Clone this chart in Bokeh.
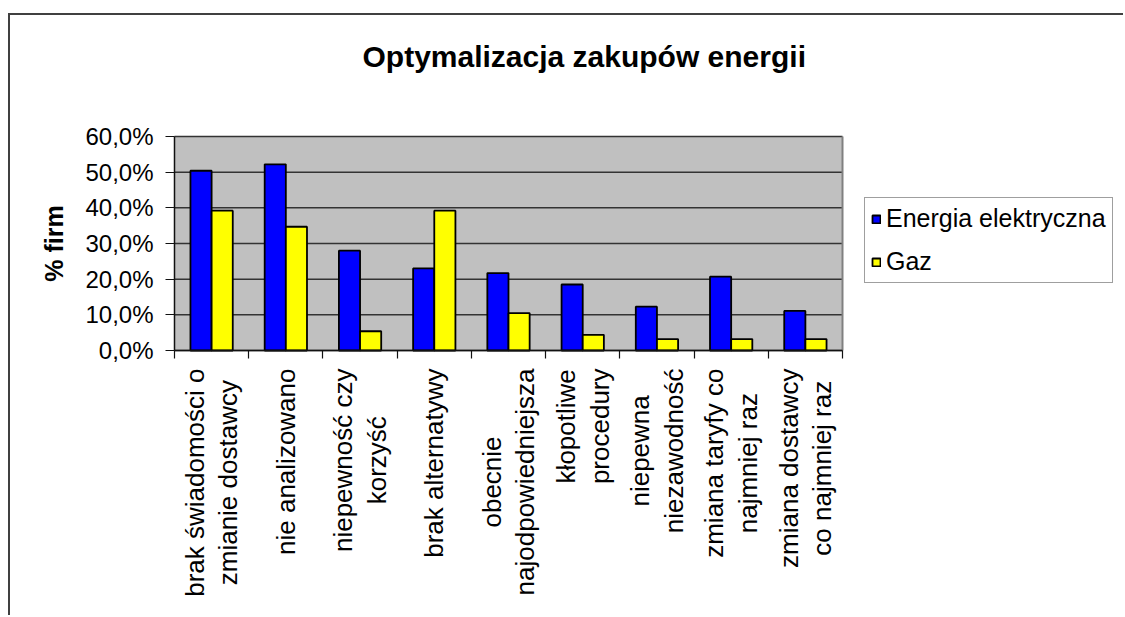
import math
import numpy as np
from bokeh.plotting import figure
from bokeh.models import (Range1d, FixedTicker, CustomJSTickFormatter, ColumnDataSource,
                          Legend, LegendItem)
from bokeh.core.properties import value
from bokeh.transform import dodge
from bokeh.embed import file_html
from bokeh.resources import INLINE

# ---------------- data ----------------
categories = [
    "brak świadomości o\nzmianie dostawcy",
    "nie analizowano",
    "niepewność czy\nkorzyść",
    "brak alternatywy",
    "obecnie\nnajodpowiedniejsza",
    "kłopotliwe\nprocedury",
    "niepewna\nniezawodność",
    "zmiana taryfy co\nnajmniej raz",
    "zmiana dostawcy\nco najmniej raz",
]
energia = [50.4, 52.2, 28.0, 23.0, 21.7, 18.5, 12.3, 20.7, 11.1]
gaz = [39.2, 34.7, 5.4, 39.2, 10.5, 4.4, 3.2, 3.2, 3.2]
series_names = ["Energia elektryczna", "Gaz"]
y_ticks = [0, 10, 20, 30, 40, 50, 60]
title_text = "Optymalizacja zakupów energii"
y_label = "% firm"

# ---------------- layout (pixels) ----------------
FONT = "Liberation Sans"
W, H = 1115, 602             # canvas
TOP = 65                     # frame top inside the canvas (title above)
AREA_LEFT = 164              # grey plotting area left edge inside the frame
AREA_TOP = 56                # grey plotting area top below the frame top
AREA_W, AREA_H = 668, 214    # grey plotting area size
YLABEL_DX = 121              # axis title centre, left of the plotting area
n = len(categories)
ymax = y_ticks[-1]
frame_w, frame_h = W, H - TOP
ux = n / AREA_W
uy = ymax / AREA_H
x_start = -AREA_LEFT * ux
x_end = (frame_w - AREA_LEFT) * ux
y_end = ymax + AREA_TOP * uy
y_start = y_end - frame_h * uy

xpos = np.arange(n) + 0.5
src = ColumnDataSource(dict(x=xpos, energia=energia, gaz=gaz))

p = figure(width=W, height=H, output_backend="svg", toolbar_location=None,
           x_range=Range1d(x_start, x_end), y_range=Range1d(y_start, y_end),
           min_border=0, min_border_left=0, min_border_top=TOP,
           min_border_right=0, min_border_bottom=0)
p.margin = (13, 0, 0, 8)
p.styles = {"border-top": "2px solid #404040", "border-left": "2px solid #404040"}

p.background_fill_color = "white"
p.border_fill_color = "white"
p.outline_line_color = None

# grey plot area, grid, right edge
p.quad(left=0, right=n, bottom=y_ticks[0], top=ymax, fill_color="#C0C0C0", line_color=None)
p.segment(x0=[0] * len(y_ticks), x1=[n] * len(y_ticks), y0=y_ticks, y1=y_ticks,
          line_color="#333333", line_width=1.5)
p.segment(x0=[n], x1=[n], y0=[y_ticks[0]], y1=[ymax], line_color="#808080", line_width=2)

bw = 0.285
r1 = p.vbar(x=dodge("x", -bw / 2, range=p.x_range), top="energia", width=bw, source=src,
            fill_color="#0000FF", line_color="black", line_width=1.8)
r2 = p.vbar(x=dodge("x", bw / 2, range=p.x_range), top="gaz", width=bw, source=src,
            fill_color="#FFFF00", line_color="black", line_width=1.8)

p.xgrid.visible = False
p.ygrid.visible = False

# y axis at x = 0
p.yaxis.fixed_location = 0
p.yaxis.bounds = (y_ticks[0], ymax)
p.yaxis.ticker = FixedTicker(ticks=y_ticks)
p.yaxis.formatter = CustomJSTickFormatter(code="return tick.toFixed(1).replace('.', ',') + '%';")
p.yaxis.major_label_text_font = FONT
p.yaxis.major_label_text_font_size = "24px"
p.yaxis.major_label_text_color = "black"
p.yaxis.major_label_standoff = 12
p.yaxis.major_tick_out = 9
p.yaxis.major_tick_in = 0
p.yaxis.minor_tick_out = 0
p.yaxis.minor_tick_in = 0
p.yaxis.axis_line_color = "#111111"
p.yaxis.axis_line_width = 1.5
p.yaxis.major_tick_line_color = "#111111"
p.yaxis.major_tick_line_width = 1.2

# y axis title
p.text(x=[-YLABEL_DX * ux], y=[(y_ticks[0] + ymax) / 2], text=[y_label], angle=math.pi / 2,
       anchor=value("center"), text_align="center", text_baseline="middle",
       text_font=value(FONT), text_font_size="25px", text_font_style="bold",
       text_color="black")

# x axis at y = 0, ticks at category boundaries
p.xaxis.fixed_location = 0
p.xaxis.bounds = (0, n)
p.xaxis.ticker = FixedTicker(ticks=list(range(n + 1)))
p.xaxis.formatter = CustomJSTickFormatter(code="return '';")
p.xaxis.major_tick_out = 8
p.xaxis.major_tick_in = 0
p.xaxis.minor_tick_out = 0
p.xaxis.minor_tick_in = 0
p.xaxis.axis_line_color = "#111111"
p.xaxis.axis_line_width = 1.5
p.xaxis.major_tick_line_color = "#111111"
p.xaxis.major_tick_line_width = 1.2

# category labels (rotated, centred lines, anchored just below the axis)
p.text(x=xpos, y=[y_ticks[0]] * n, text=categories, angle=math.pi / 2,
       anchor=value("center_right"), text_align="center", text_baseline="middle",
       y_offset=18, text_font=value(FONT), text_font_size="26px",
       text_line_height=1.12, text_color="black")

# title
p.title.text = title_text
p.title.align = "left"
p.title.offset = 352
p.title.standoff = 16
p.title.text_font = FONT
p.title.text_font_size = "30px"
p.title.text_font_style = "bold"
p.title.text_color = "black"

# legend
legend = Legend(items=[LegendItem(label=series_names[0], renderers=[r1]),
                       LegendItem(label=series_names[1], renderers=[r2])],
                location=(854, 334), orientation="vertical",
                label_text_font=FONT, label_text_font_size="25px", label_text_color="black",
                glyph_width=10, glyph_height=10, label_standoff=5, label_height=27,
                spacing=14, padding=6, margin=0,
                border_line_color="#404040", border_line_width=1.5,
                background_fill_color="white", background_fill_alpha=1.0)
p.add_layout(legend, "center")

open("out.html", "w").write(file_html(p, INLINE))
